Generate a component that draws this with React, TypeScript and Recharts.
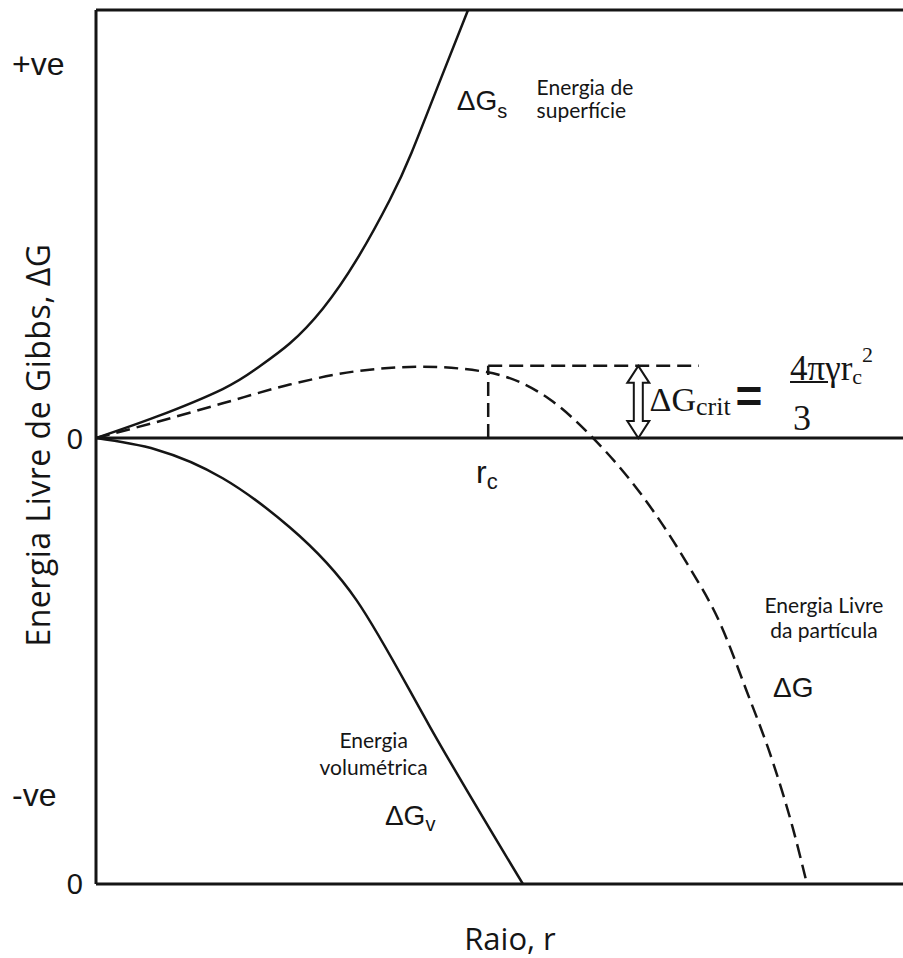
import React from "react";
import { LineChart, Line, XAxis, YAxis, ReferenceLine, ReferenceDot, Label } from "recharts";

// raio (r) e energia (ΔG), em unidades arbitrárias
const surfaceR = [0, 0.75, 1.57, 1.99, 2.4, 2.81, 3.23, 3.64, 3.91, 4.26, 4.61];
const surfaceG = [0, 0.24, 0.55, 0.78, 1.06, 1.45, 2.0, 2.67, 3.2, 4.0, 4.8];
const volumeR = [0, 0.75, 1.57, 2.4, 3.23, 4.14, 5.29];
const volumeG = [0, -0.13, -0.45, -1.0, -1.82, -3.24, -5.0];
const totalR = [0, 0.75, 1.57, 2.4, 3.23, 4.05, 4.84, 5.63, 6.16, 6.78, 7.32, 7.73, 8.06, 8.39, 8.64, 8.81];
const totalG = [0, 0.18, 0.39, 0.6, 0.75, 0.8, 0.74, 0.43, 0, -0.66, -1.4, -2.07, -2.83, -3.64, -4.39, -5.0];

const yTicks = [-5, -4, 0, 4.2];
const yTickLabels = ["0", "-ve", "0", "+ve"];

const rCrit = 4.86;
const gCrit = 0.81;
const critLineEnd = 7.47;
const arrowR = 6.72;

const toPoints = (rs: number[], gs: number[]) => rs.map((r, i) => ({ r, g: gs[i] }));
const surface = toPoints(surfaceR, surfaceG);
const volume = toPoints(volumeR, volumeG);
const total = toPoints(totalR, totalG);

const INK = "#151515";
const SANS = "'Liberation Sans', Arial, sans-serif";
const SERIF = "'Liberation Serif', 'Times New Roman', serif";
const BODY = "Lato, 'Open Sans', sans-serif";
const TITLE = "'Open Sans', Lato, sans-serif";

const YTick = ({ y, payload }: any) => {
  const label = yTickLabels[yTicks.indexOf(payload.value)];
  const zero = label === "0";
  return (
    <text x={zero ? 83 : 12} y={y} dy="0.36em" textAnchor={zero ? "end" : "start"}
      fontFamily={SANS} fontSize={zero ? 29 : 32} fill={INK}>
      {label}
    </text>
  );
};

const DoubleArrow = (p: any) => {
  const top = Math.min(p.y1, p.y2);
  const bot = Math.max(p.y1, p.y2);
  const cx = p.x1;
  const hw = 11, sw = 4.5, hl = 17;
  const d = `M${cx},${top} L${cx + hw},${top + hl} L${cx + sw},${top + hl} L${cx + sw},${bot - hl} L${cx + hw},${bot - hl} L${cx},${bot} L${cx - hw},${bot - hl} L${cx - sw},${bot - hl} L${cx - sw},${top + hl} L${cx - hw},${top + hl} Z`;
  return <path d={d} fill="#fff" stroke={INK} strokeWidth={2} strokeLinejoin="miter" />;
};

export default function App() {
  return (
    <div style={{ position: "absolute", left: 0, top: 0, background: "#fff" }}>
      <LineChart width={903} height={958} margin={{ top: 10, right: 0, bottom: 0, left: 0 }}>
        <XAxis
          type="number"
          dataKey="r"
          domain={[0, 10]}
          allowDataOverflow
          tick={false}
          tickLine={false}
          height={74}
          axisLine={{ stroke: INK, strokeWidth: 3 }}
        >
          <Label
            content={() => (
              <text x={510} y={950} textAnchor="middle" fontFamily={TITLE} fontSize={31} fill={INK}>
                Raio, r
              </text>
            )}
          />
        </XAxis>
        <YAxis
          type="number"
          domain={[-5, 4.8]}
          allowDataOverflow
          ticks={yTicks}
          tick={<YTick />}
          tickLine={false}
          width={96}
          axisLine={{ stroke: INK, strokeWidth: 3 }}
        >
          <Label
            content={() => (
              <text x={38} y={445} transform="rotate(-90 38 445)" textAnchor="middle" dy="0.36em"
                fontFamily={TITLE} fontSize={32} letterSpacing={0.5} fill={INK}>
                Energia Livre de Gibbs, ΔG
              </text>
            )}
          />
        </YAxis>

        {/* moldura superior e linha do zero */}
        <ReferenceLine y={4.8} stroke={INK} strokeWidth={3} />
        <ReferenceLine y={0} stroke={INK} strokeWidth={3} />

        {/* r_c e ΔG_crit */}
        <ReferenceLine segment={[{ x: rCrit, y: 0 }, { x: rCrit, y: gCrit }]} stroke={INK} strokeWidth={2.5} strokeDasharray="14 7" />
        <ReferenceLine segment={[{ x: rCrit, y: gCrit }, { x: critLineEnd, y: gCrit }]} stroke={INK} strokeWidth={2.5} strokeDasharray="14 7" />
        <ReferenceLine segment={[{ x: arrowR, y: 0 }, { x: arrowR, y: gCrit }]} shape={<DoubleArrow />} />

        <Line data={surface} dataKey="g" type="natural" stroke={INK} strokeWidth={2.5} dot={false} isAnimationActive={false} />
        <Line data={volume} dataKey="g" type="natural" stroke={INK} strokeWidth={2.5} dot={false} isAnimationActive={false} />
        <Line data={total} dataKey="g" type="monotone" stroke={INK} strokeWidth={2.5} strokeDasharray="14 7" dot={false} isAnimationActive={false} />

        {/* anotações */}
        <ReferenceDot x={4.47} y={3.68} r={0} ifOverflow="visible" shape={(p: any) => (
          <text x={p.cx} y={p.cy} fontFamily={SANS} fontSize={28} fill={INK}>
            ΔG<tspan fontSize={20} dy={8}>s</tspan>
          </text>
        )} />
        <ReferenceDot x={5.46} y={3.85} r={0} ifOverflow="visible" shape={(p: any) => (
          <text x={p.cx} y={p.cy} fontFamily={BODY} fontSize={21} fill={INK}>
            <tspan x={p.cx}>Energia de</tspan>
            <tspan x={p.cx} dy={23}>superfície</tspan>
          </text>
        )} />
        <ReferenceDot x={6.86} y={0.3} r={0} ifOverflow="visible" shape={(p: any) => (
          <g fill={INK}>
            <text x={p.cx} y={p.cy} fontFamily={SERIF} fontSize={34}>
              ΔG<tspan fontSize={26} dy={4}>crit</tspan>
            </text>
            <text x={p.cx + 86} y={p.cy + 1} fontFamily={SANS} fontWeight="bold" fontSize={46}>=</text>
          </g>
        )} />
        <ReferenceDot x={8.6} y={0.65} r={0} ifOverflow="visible" shape={(p: any) => (
          <g fill={INK}>
            <text x={p.cx} y={p.cy} fontFamily={SERIF} fontSize={35}>
              4πγr<tspan fontSize={22} dy={4}>c</tspan><tspan fontSize={22} dy={-22}>2</tspan>
            </text>
            <line x1={p.cx} x2={p.cx + 38} y1={p.cy + 2} y2={p.cy + 2} stroke={INK} strokeWidth={2} />
            <text x={p.cx + 3} y={p.cy + 50} fontFamily={SERIF} fontSize={36}>3</text>
          </g>
        )} />
        <ReferenceDot x={4.71} y={-0.5} r={0} ifOverflow="visible" shape={(p: any) => (
          <text x={p.cx} y={p.cy} fontFamily={SANS} fontSize={32} fill={INK}>
            r<tspan fontSize={22} dy={6}>c</tspan>
          </text>
        )} />
        <ReferenceDot x={9.02} y={-1.96} r={0} ifOverflow="visible" shape={(p: any) => (
          <text x={p.cx} y={p.cy} textAnchor="middle" fontFamily={BODY} fontSize={21} fill={INK}>
            <tspan x={p.cx}>Energia Livre</tspan>
            <tspan x={p.cx} dy={25}>da partícula</tspan>
          </text>
        )} />
        <ReferenceDot x={8.39} y={-2.9} r={0} ifOverflow="visible" shape={(p: any) => (
          <text x={p.cx} y={p.cy} fontFamily={SANS} fontSize={28} fill={INK}>ΔG</text>
        )} />
        <ReferenceDot x={3.44} y={-3.48} r={0} ifOverflow="visible" shape={(p: any) => (
          <text x={p.cx} y={p.cy} textAnchor="middle" fontFamily={BODY} fontSize={21} fill={INK}>
            <tspan x={p.cx}>Energia</tspan>
            <tspan x={p.cx} dy={27}>volumétrica</tspan>
          </text>
        )} />
        <ReferenceDot x={3.58} y={-4.34} r={0} ifOverflow="visible" shape={(p: any) => (
          <text x={p.cx} y={p.cy} fontFamily={SANS} fontSize={28} fill={INK}>
            ΔG<tspan fontSize={20} dy={6}>v</tspan>
          </text>
        )} />
      </LineChart>
    </div>
  );
}
